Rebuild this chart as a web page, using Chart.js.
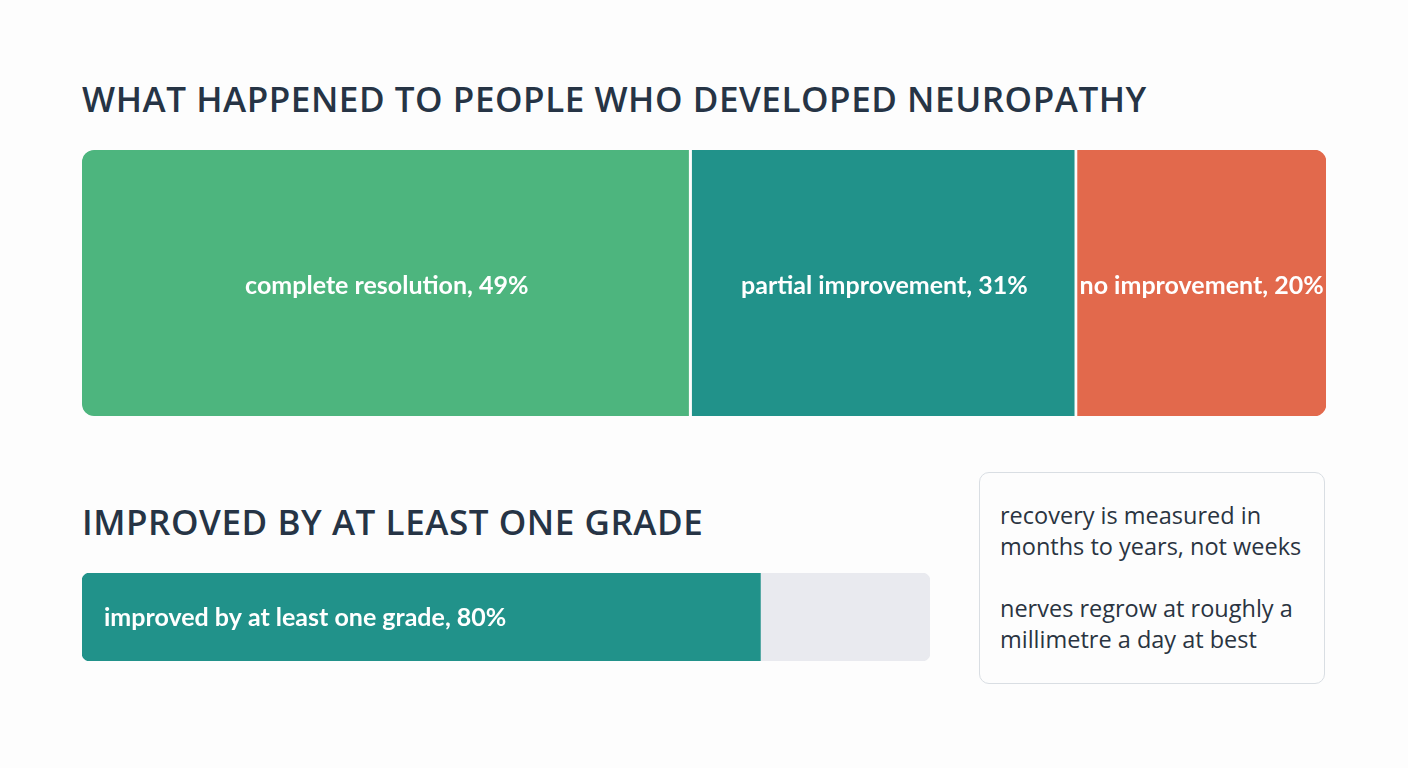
<!DOCTYPE html>
<html>
<head>
<meta charset="utf-8">
<script src="https://cdn.jsdelivr.net/npm/chart.js@4.4.1/dist/chart.umd.min.js"></script>
<style>
  body { margin: 0; background: #fdfdfd; width: 1408px; height: 768px; position: relative; overflow: hidden; font-family: "Open Sans", sans-serif; }
  .title { position: absolute; left: 82px; font-size: 35px; font-weight: 600; letter-spacing: 0.55px; color: #263445; white-space: nowrap; }
  .box { position: absolute; }
  .note { position: absolute; left: 979px; top: 472px; width: 346px; height: 212px; box-sizing: border-box;
          border: 1.5px solid #d9dee3; border-radius: 10px; padding: 27px 0 0 20px; background: #fdfdfd;
          font-size: 23.5px; line-height: 31px; color: #2a3441; }
  .note p { margin: 0 0 31px 0; }
</style>
</head>
<body>
<div class="title" style="top:75px">WHAT HAPPENED TO PEOPLE WHO DEVELOPED NEUROPATHY</div>
<div class="box" style="left:82px; top:150px; width:1244px; height:266px"><canvas id="outcomes"></canvas></div>

<div class="title" style="top:498px">IMPROVED BY AT LEAST ONE GRADE</div>
<div class="box" style="left:82px; top:573px; width:848px; height:88px"><canvas id="grade"></canvas></div>

<div class="note" id="note"></div>

<script>
// outcome split for everyone who developed neuropathy
var outcomeLabels = ['complete resolution', 'partial improvement', 'no improvement'];
var outcomeValues = [49, 31, 20];
var outcomeColors = ['#4db57e', '#21928a', '#e2694c'];

// share improved by at least one grade
var gradeLabel = 'improved by at least one grade';
var gradeValue = 80;
var gradeRest = 20;

var notes = [
  ['recovery is measured in', 'months to years, not weeks'],
  ['nerves regrow at roughly a', 'millimetre a day at best']
];

var bg = '#fdfdfd';

// writes "label, value%" on each bar segment
var barText = {
  id: 'barText',
  afterDatasetsDraw: function(chart, args, opts) {
    var ctx = chart.ctx;
    ctx.save();
    ctx.fillStyle = '#ffffff';
    ctx.font = '700 25px Lato, sans-serif';
    ctx.textBaseline = 'middle';
    chart.data.datasets.forEach(function(ds, i) {
      if (!ds.text) return;
      var el = chart.getDatasetMeta(i).data[0];
      if (opts.align === 'left') {
        ctx.textAlign = 'left';
        ctx.fillText(ds.text, el.base + 22, el.y + 1);
      } else {
        ctx.textAlign = 'center';
        ctx.fillText(ds.text, (el.x + el.base) / 2, el.y + 3);
      }
    });
    ctx.restore();
  }
};

function hiddenScales() {
  return {
    x: { stacked: true, min: 0, max: 100, display: false },
    y: { stacked: true, display: false }
  };
}

var r = 12;
var outcomeSets = outcomeValues.map(function(v, i) {
  var last = i === outcomeValues.length - 1;
  var radius = { topLeft: 0, bottomLeft: 0, topRight: 0, bottomRight: 0 };
  if (i === 0) { radius.topLeft = r; radius.bottomLeft = r; }
  if (last) { radius.topRight = r; radius.bottomRight = r; }
  return {
    label: outcomeLabels[i],
    text: outcomeLabels[i] + ', ' + v + '%',
    data: [v],
    backgroundColor: outcomeColors[i],
    borderColor: bg,
    borderWidth: last ? 0 : { top: 0, bottom: 0, left: 0, right: 3 },
    borderSkipped: false,
    borderRadius: radius,
    barPercentage: 1,
    categoryPercentage: 1
  };
});

new Chart(document.getElementById('outcomes'), {
  type: 'bar',
  data: { labels: ['outcome'], datasets: outcomeSets },
  options: {
    indexAxis: 'y',
    responsive: true,
    maintainAspectRatio: false,
    animation: false,
    layout: { padding: 0 },
    scales: hiddenScales(),
    plugins: { legend: { display: false }, tooltip: { enabled: false }, barText: {} }
  },
  plugins: [barText]
});

new Chart(document.getElementById('grade'), {
  type: 'bar',
  data: {
    labels: ['grade'],
    datasets: [{
      label: gradeLabel,
      text: gradeLabel + ', ' + gradeValue + '%',
      data: [gradeValue],
      backgroundColor: '#21928a',
      borderSkipped: false,
      borderRadius: { topLeft: 8, bottomLeft: 8, topRight: 0, bottomRight: 0 },
      barPercentage: 1,
      categoryPercentage: 1
    }, {
      label: 'rest',
      data: [gradeRest],
      backgroundColor: '#e9eaef',
      borderSkipped: false,
      borderRadius: { topLeft: 0, bottomLeft: 0, topRight: 8, bottomRight: 8 },
      barPercentage: 1,
      categoryPercentage: 1
    }]
  },
  options: {
    indexAxis: 'y',
    responsive: true,
    maintainAspectRatio: false,
    animation: false,
    layout: { padding: 0 },
    scales: hiddenScales(),
    plugins: { legend: { display: false }, tooltip: { enabled: false }, barText: { align: 'left' } }
  },
  plugins: [barText]
});

var note = document.getElementById('note');
notes.forEach(function(lines) {
  var p = document.createElement('p');
  p.innerHTML = lines.join('<br>');
  note.appendChild(p);
});
</script>
</body>
</html>
